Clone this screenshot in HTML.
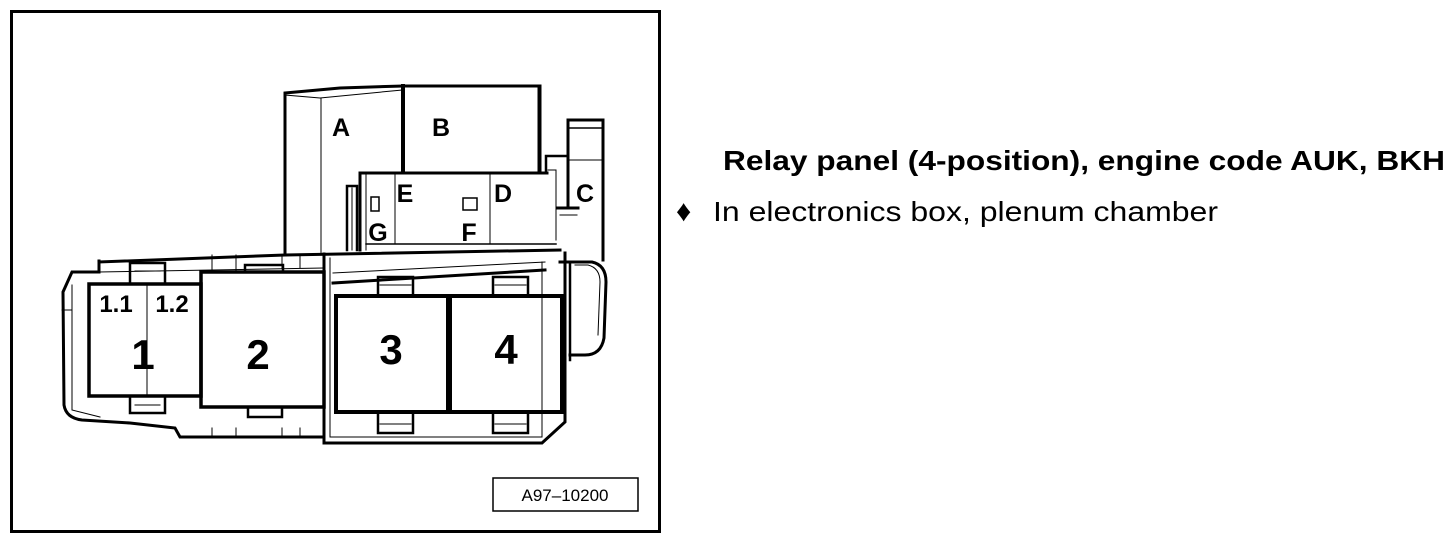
<!DOCTYPE html>
<html><head><style>
html,body{margin:0;padding:0;background:#fff;}
svg{display:block;}
text{font-family:"Liberation Sans",Arial,sans-serif;}
</style></head><body>
<svg width="1456" height="540" viewBox="0 0 1456 540" xmlns="http://www.w3.org/2000/svg">
<rect x="11.5" y="11.5" width="648" height="520" fill="none" stroke="#000" stroke-width="3"/>
<rect x="493" y="478" width="145" height="33" fill="none" stroke="#000" stroke-width="1.5"/>
<text x="565" y="501" font-size="17" text-anchor="middle">A97–10200</text>

<g fill="none" stroke="#000" stroke-linecap="square">
<path d="M285 255 V93 L340 88 L402 86" stroke-width="3"/>
<path d="M285 95 L320 98 L402 90" stroke-width="1"/>
<line x1="321" y1="98" x2="321" y2="255" stroke-width="1"/>
<line x1="403" y1="86" x2="403" y2="172" stroke-width="4"/>
<path d="M403 86 H540 V172" stroke-width="3"/>
<line x1="538" y1="87" x2="538" y2="172" stroke-width="1"/>
<path d="M360 250 V173 H547" stroke-width="3"/>
<line x1="366" y1="173" x2="366" y2="250" stroke-width="1"/>
<line x1="395" y1="173" x2="395" y2="244" stroke-width="1"/>
<line x1="490" y1="173" x2="490" y2="244" stroke-width="1"/>
<line x1="366" y1="244" x2="556" y2="244" stroke-width="1.5"/>
<rect x="371" y="197" width="8" height="14" stroke-width="1.5"/>
<rect x="463" y="198" width="14" height="12" stroke-width="1.5"/>
<path d="M357 250 V186 H347 V250" stroke-width="2.5"/>
<line x1="352" y1="188" x2="352" y2="250" stroke-width="1"/>
<path d="M546 172 V156 H566" stroke-width="2.5"/>
<path d="M548 170 H556 V240" stroke-width="1"/>
<path d="M568 207 V120 H603 V260" stroke-width="3"/>
<line x1="568" y1="128" x2="603" y2="128" stroke-width="1.5"/>
<line x1="568" y1="160" x2="601" y2="160" stroke-width="1"/>
<line x1="557" y1="208" x2="578" y2="208" stroke-width="3"/>
<line x1="560" y1="215" x2="577" y2="215" stroke-width="1"/>
<path d="M99 261 V272 L72 272 L63 292 L64 405 Q66 418 82 420 L130 423 L175 428 L180 437 L323 437" stroke-width="3"/>
<path d="M99 262 L285 255 L560 250" stroke-width="3"/>
<path d="M72 285 V410 L100 417" stroke-width="1"/>
<line x1="99" y1="272" x2="323" y2="268" stroke-width="1"/>
<line x1="62" y1="310" x2="72" y2="310" stroke-width="1"/>
<path d="M212 255 V270 M236 255 V270 M282 255 V268 M300 255 V268 M212 428 V437 M236 428 V437 M282 428 V437 M300 428 V437" stroke-width="1"/>
<path d="M130 284 V263 H165 V284" stroke-width="2.5"/>
<line x1="135" y1="271" x2="160" y2="271" stroke-width="1"/>
<path d="M130 396 V413 H165 V396" stroke-width="2.5"/>
<line x1="135" y1="405" x2="160" y2="405" stroke-width="1"/>
<path d="M245 272 V265 H283 V272" stroke-width="2.5"/>
<path d="M248 407 V417 H282 V407" stroke-width="2.5"/>
<rect x="89" y="284" width="112" height="112" stroke-width="3.5"/>
<line x1="147" y1="285" x2="147" y2="395" stroke-width="1"/>
<rect x="201" y="272" width="123" height="135" stroke-width="3.5"/>
<path d="M324 254 V443 H542 L565 422 V253" stroke-width="3"/>
<path d="M330 258 V437 H542" stroke-width="1"/>
<line x1="333" y1="283" x2="545" y2="270" stroke-width="3"/>
<line x1="333" y1="273" x2="545" y2="262" stroke-width="1"/>
<line x1="542" y1="262" x2="542" y2="437" stroke-width="1"/>
<path d="M378 295 V277 H413 V295 M493 295 V277 H528 V295" stroke-width="2.5"/>
<path d="M380 285 H411 M495 285 H526" stroke-width="1"/>
<path d="M378 412 V433 H413 V412 M493 412 V433 H528 V412" stroke-width="2.5"/>
<path d="M380 424 H411 M495 424 H526" stroke-width="1"/>
<rect x="336" y="296" width="112" height="116" stroke-width="4"/>
<rect x="450" y="296" width="112" height="116" stroke-width="4"/>
<path d="M560 262 H592 Q606 265 606 282 L604 338 Q601 355 585 355 H570" stroke-width="3"/>
<line x1="570" y1="262" x2="570" y2="360" stroke-width="2.5"/>
<path d="M575 265 H588 Q600 268 600 282 L598 335" stroke-width="1"/>
</g>

<g font-weight="bold" fill="#000">
<text x="341" y="136" font-size="25" text-anchor="middle">A</text>
<text x="441" y="136" font-size="25" text-anchor="middle">B</text>
<text x="405" y="202" font-size="25" text-anchor="middle">E</text>
<text x="503" y="202" font-size="25" text-anchor="middle">D</text>
<text x="585" y="202" font-size="25" text-anchor="middle">C</text>
<text x="378" y="241" font-size="25" text-anchor="middle">G</text>
<text x="469" y="241" font-size="25" text-anchor="middle">F</text>
<text x="116" y="312" font-size="24" text-anchor="middle">1.1</text>
<text x="172" y="312" font-size="24" text-anchor="middle">1.2</text>
<text x="143" y="369" font-size="42" text-anchor="middle">1</text>
<text x="258" y="369" font-size="42" text-anchor="middle">2</text>
<text x="391" y="364" font-size="42" text-anchor="middle">3</text>
<text x="506" y="364" font-size="42" text-anchor="middle">4</text>
</g>

<text x="723" y="170" font-size="28" font-weight="bold" textLength="722" lengthAdjust="spacingAndGlyphs">Relay panel (4-position), engine code AUK, BKH</text>
<text x="676" y="221" font-size="30">♦</text>
<text x="713" y="221" font-size="28" textLength="505" lengthAdjust="spacingAndGlyphs">In electronics box, plenum chamber</text>
</svg>
</body></html>
